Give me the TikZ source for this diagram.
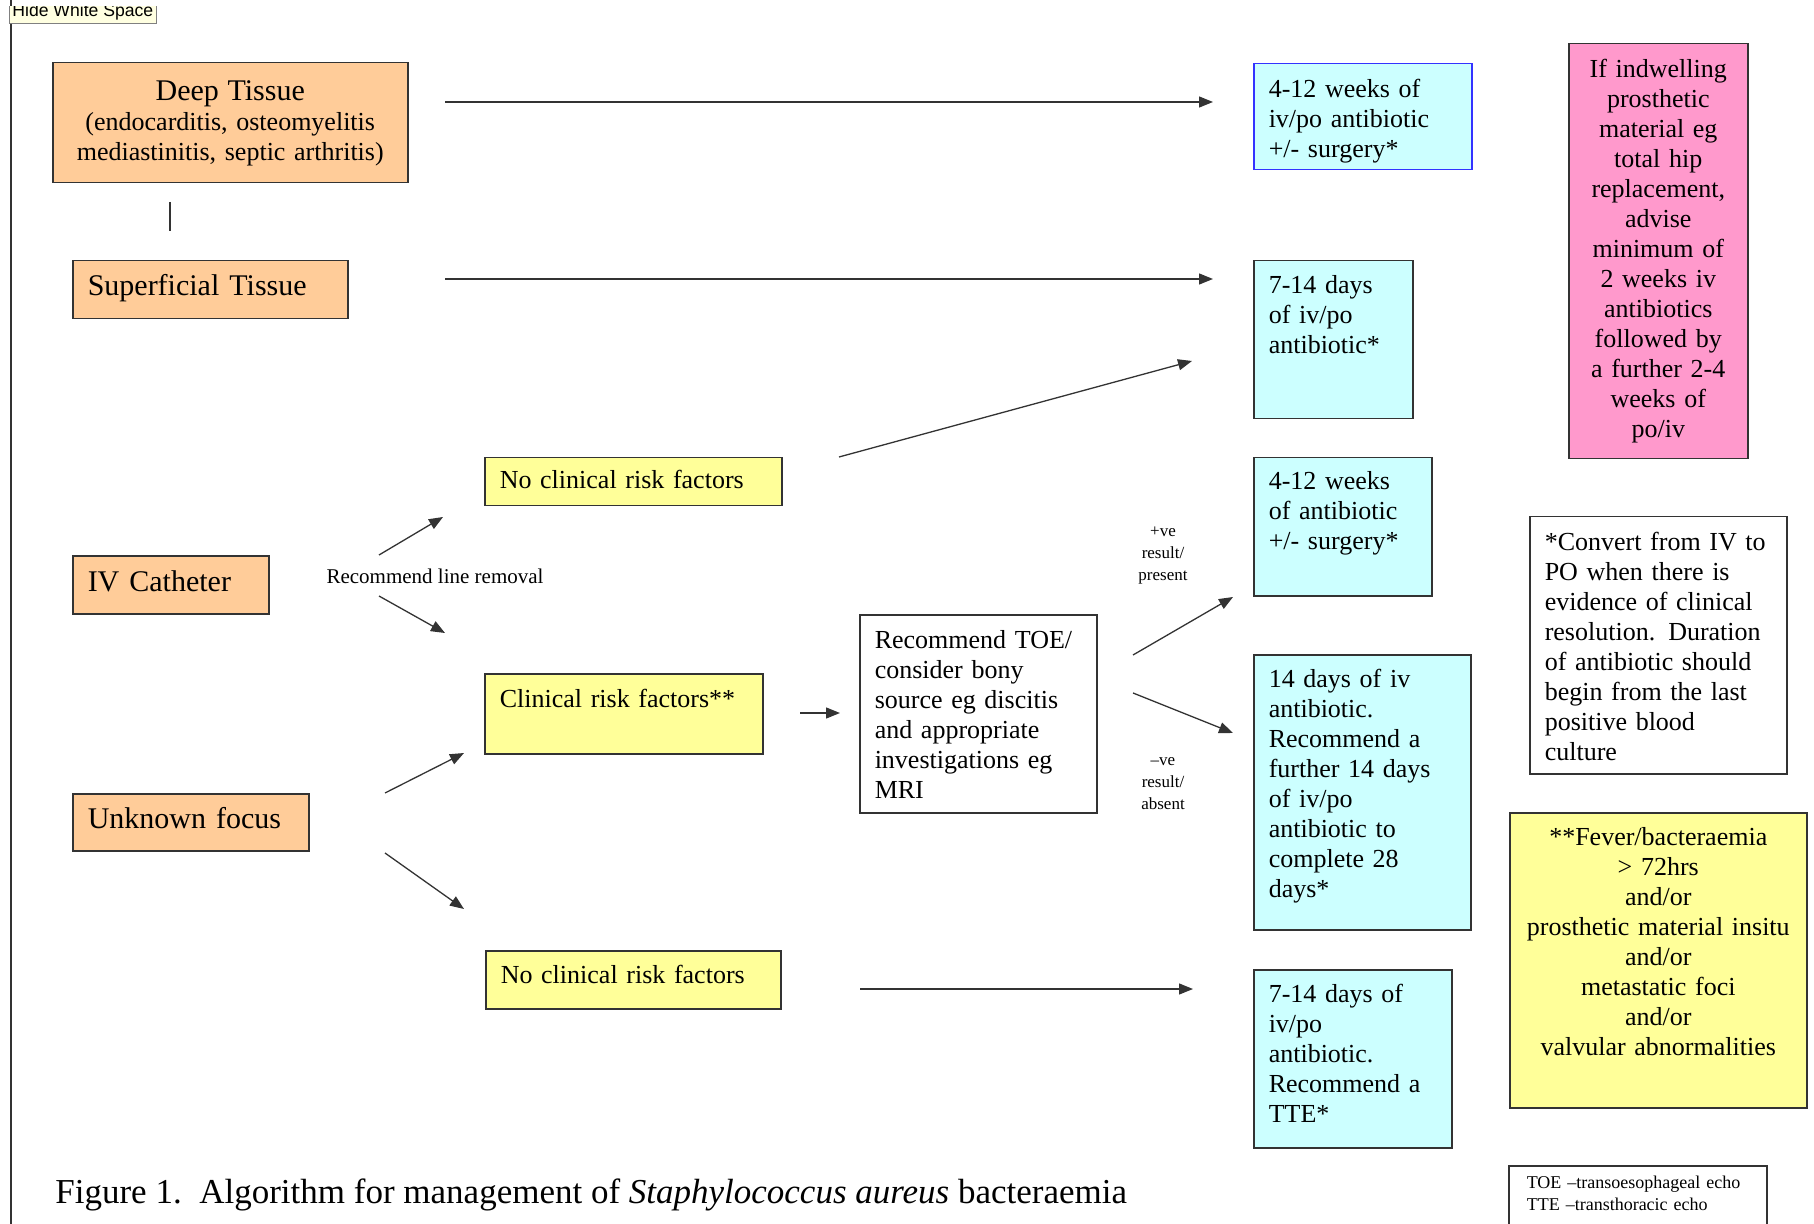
\documentclass[tikz,border=0pt]{standalone}
\usepackage{fontspec}
\setmainfont{Liberation Serif}
\newfontfamily\tabfont{Liberation Sans}
\usepackage{xcolor}
\usetikzlibrary{arrows.meta,positioning}
\definecolor{sitefill}{HTML}{FFCC99}
\definecolor{riskfill}{HTML}{FFFF99}
\definecolor{txfill}{HTML}{CCFFFF}
\definecolor{pinkfill}{HTML}{FF99CC}
\definecolor{tabfill}{HTML}{FFFFE1}
\definecolor{rand}{HTML}{333333}
\definecolor{blaurand}{HTML}{3333FF}

\begin{document}
\begin{tikzpicture}[x=0.5pt,y=-0.5pt,
  kasten/.style={draw=rand,line width=0.75pt,anchor=north west,inner xsep=7.5pt,inner ysep=0pt,align=left,font=\fontsize{13pt}{15pt}\selectfont},
  site/.style={kasten,fill=sitefill,font=\fontsize{15pt}{15pt}\selectfont},
  risk/.style={kasten,fill=riskfill},
  therapie/.style={kasten,fill=txfill},
  pfeil/.style={draw=rand,line width=0.65pt,-{Triangle[length=7pt,width=5.5pt]}},
  klein/.style={font=\fontsize{8.5pt}{11pt}\selectfont,align=center,text width=40pt,anchor=base,inner sep=0pt}]
%Koordinaten in Pixeln des Bildes (1814 x 1224), y nach unten
\useasboundingbox (0,0) rectangle (1814,1224);
\draw[rand,line width=0.6pt] (11,0) -- (11,1224);
%Reiter oben links, oben abgeschnitten
\begin{scope}
  \clip (0,7) rectangle (300,40);
  \node[draw=black!50,fill=tabfill,anchor=south west,inner sep=1.5pt,font=\tabfont\fontsize{8.8pt}{9pt}\selectfont] (tab) at (9,24) {Hide White Space};
\end{scope}

%Ort der Infektion
\node[site,fill=sitefill,align=center,font=\fontsize{13pt}{15pt}\selectfont,text width=162.5pt,text height=19pt,text depth=41pt] (deep) at (52,62)
  {{\fontsize{15pt}{15pt}\selectfont Deep Tissue}\\(endocarditis, osteomyelitis\\mediastinitis, septic arthritis)};
\node[site,text width=122.5pt,text height=17.5pt,text depth=11.5pt] (superficial) at (72,260) {Superficial Tissue};
\node[site,text width=83pt,text height=18pt,text depth=11pt] (iv) at (72,555) {IV Catheter};
\node[site,text width=103pt,text height=17.5pt,text depth=11pt] (unknown) at (72,793) {Unknown focus};

%Risikofaktoren
\node[risk,text width=133.5pt,text height=15.5pt,text depth=8.5pt] (norisk1) at (484,457) {No clinical risk factors};
\node[risk,text width=124pt,text height=17pt,text depth=23pt] (risk) at (484,673) {Clinical risk factors**};
\node[risk,text width=132.5pt,text height=16.5pt,text depth=12.5pt] (norisk2) at (485,950) {No clinical risk factors};
\node[kasten,fill=white,text width=103.5pt,text height=17pt,text depth=82pt] (toe) at (859,614)
  {Recommend TOE/\\consider bony\\source eg discitis\\and appropriate\\investigations eg\\MRI};

%Therapie
\node[therapie,draw=blaurand,text width=94pt,text height=17pt,text depth=36pt] (tx1) at (1253,63) {4-12 weeks of\\iv/po antibiotic\\+/- surgery*};
\node[therapie,text width=64.5pt,text height=16.5pt,text depth=62.5pt] (tx2) at (1253,260) {7-14 days\\of iv/po\\antibiotic*};
\node[therapie,text width=74pt,text height=16pt,text depth=53pt] (tx3) at (1253,457) {4-12 weeks\\of antibiotic\\+/- surgery*};
\node[therapie,text width=93.5pt,text height=16.5pt,text depth=121pt] (tx4) at (1253,654)
  {14 days of iv\\antibiotic.\\Recommend a\\further 14 days\\of iv/po\\antibiotic to\\complete 28\\days*};
\node[therapie,text width=84pt,text height=16.5pt,text depth=72.5pt] (tx5) at (1253,969) {7-14 days of\\iv/po\\antibiotic.\\Recommend a\\TTE*};

%Hinweise rechts
\node[kasten,fill=pinkfill,align=center,text width=74.5pt,text height=17pt,text depth=190.5pt] (prothese) at (1568,43)
  {If indwelling\\prosthetic\\material eg\\total hip\\replacement,\\advise\\minimum of\\2 weeks iv\\antibiotics\\followed by\\a further 2-4\\weeks of\\po/iv};
\node[kasten,fill=white,text width=113.5pt,text height=17pt,text depth=111.5pt] (convert) at (1529,516)
  {*Convert from IV to\\PO when there is\\evidence of clinical\\resolution. Duration\\of antibiotic should\\begin from the last\\positive blood\\culture};
\node[risk,align=center,text width=133.5pt,text height=16.5pt,text depth=131pt] (fever) at (1509,812)
  {**Fever/bacteraemia\\> 72hrs\\and/or\\prosthetic material insitu\\and/or\\metastatic foci\\and/or\\valvular abnormalities};
\node[kasten,fill=white,inner xsep=9pt,text width=111pt,text height=11.5pt,text depth=40pt,font=\fontsize{9pt}{11pt}\selectfont] (abk) at (1508,1165)
  {TOE –transoesophageal echo\\TTE –transthoracic echo};

%Beschriftungen
\node[anchor=base,inner sep=0pt,font=\fontsize{10.5pt}{12pt}\selectfont] (removal) at (435,583) {Recommend line removal};
\node[klein] (positiv) at (1163,537) {+ve\\result/\\present};
\node[klein] (negativ) at (1163,765) {–ve\\result/\\absent};
\node[anchor=base west,inner sep=0pt,font=\fontsize{17.5pt}{20pt}\selectfont] (caption) at (55,1203)
  {Figure 1.\ \ Algorithm for management of \textit{Staphylococcus aureus} bacteraemia};

%Pfeile
\coordinate (v1) at (170,202);
\coordinate (v2) at (170,231);
\draw[rand,line width=0.65pt] (v1) -- (v2);
\foreach \n/\xa/\ya/\xb/\yb in {1/445/102/1213/102, 2/445/279/1213/279, 3/839/457/1192/361,
    4/379/555/443/517, 5/379/596/445/633, 6/385/793/464/753, 7/385/853/464/909,
    8/800/713/840/713, 9/860/989/1193/989, 10/1133/655/1233/597, 11/1133/693/1233/733}{
  \coordinate (s\n) at (\xa,\ya);
  \coordinate (e\n) at (\xb,\yb);
  \draw[pfeil] (s\n) -- (e\n);
}
\end{tikzpicture}
\end{document}
